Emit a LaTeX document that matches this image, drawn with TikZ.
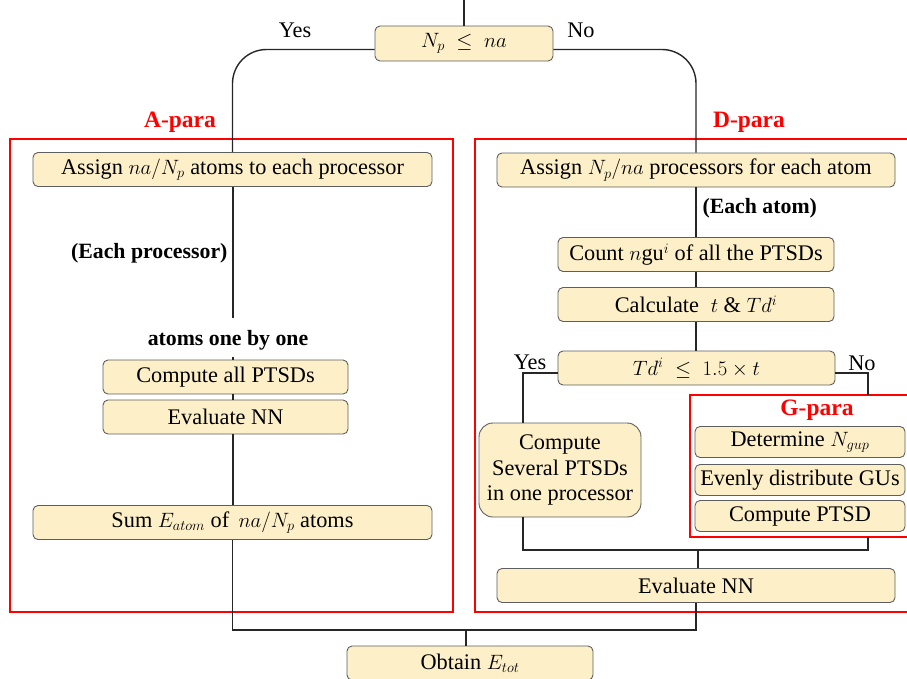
\documentclass[tikz,border=0pt]{standalone}
\usepackage{amsmath}
\usepackage{fontspec}
\setmainfont{Liberation Serif}
\usepackage{tikz}
\usetikzlibrary{calc}
\definecolor{boxfill}{HTML}{FDF0C8}
\definecolor{boxline}{HTML}{5E5E5E}
\newcommand\boxfont{\fontsize{22.3}{25.5}\selectfont}
\newcommand\notefont{\bfseries\fontsize{21.8}{24}\selectfont}
\newcommand\regionfont{\bfseries\fontsize{23.5}{26}\selectfont}
\tikzset{basic/.style={draw=boxline,fill=boxfill,line width=0.9pt,rounded corners=5pt,
                       inner sep=0pt,text badly centered,font=\boxfont}}
\tikzset{process/.style={basic,minimum height=34pt}}
\tikzset{choice/.style={basic,minimum height=35pt}}
\tikzset{region/.style={draw=red,line width=2.2pt}}
\tikzset{regionname/.style={text=red,font=\regionfont}}
\tikzset{note/.style={font=\notefont}}
\tikzset{flow/.style={line width=1.4pt,black!85}}

\begin{document}
\begin{tikzpicture}[x=1pt,y=-1pt]
    \useasboundingbox (0,0) rectangle (907,678);
    \clip (0,0) rectangle (907,678);

    % parallel regions
    \draw[region] (10,139) rectangle (453,612);
    \draw[region] (475,139) rectangle (940,612);
    \draw[region] (690,395) rectangle (940,537);
    \node[regionname] (Aname) at (180,122) {A-para};
    \node[regionname] (Dname) at (749,122) {D-para};
    \node[regionname] (Gname) at (817,410) {G-para};

    % first decision
    \coordinate (start) at (464,0);
    \node[choice,minimum width=178pt] (dec) at (464,43.5) {$N_p \;\leq\; na$};
    \node (yes) at (295,30) {\boxfont Yes};
    \node (no) at (581,30) {\boxfont No};

    % A-para column
    \node[process,minimum width=399pt] (assignA) at (232.5,169.5)
        {Assign $na/N_p$ atoms to each processor};
    \coordinate (loopA) at (233,318);
    \node[note,anchor=east] (eachA) at (231,253) {(Each processor)};
    \node[note] (oneA) at (228,340) {atoms one by one};
    \node[process,minimum width=245pt] (computeA) at (225.5,377) {Compute all PTSDs};
    \node[process,minimum width=245pt] (evalA) at (225.5,417) {Evaluate NN};
    \node[process,minimum width=399pt] (sumA) at (232.5,522.5)
        {Sum $E_{atom}$ of \,$na/N_p$ atoms};

    % D-para column
    \node[process,minimum width=398pt] (assignD) at (696,170)
        {Assign $N_p/na$ processors for each atom};
    \node[note,anchor=west] (eachD) at (699,208) {(Each atom)};
    \node[process,minimum width=276pt] (countD) at (696,254.5)
        {Count $n$gu$^i$ of all the PTSDs};
    \node[process,minimum width=276pt] (calcD) at (696,304.5)
        {Calculate \;$t$ \& $Td^i$};
    \node[process,minimum width=277pt] (decD) at (696.5,368)
        {$Td^i \;\leq\; 1.5\times t$};
    \node (yesD) at (530,362) {\boxfont Yes};
    \node (noD) at (862,363) {\boxfont No};
    \node[basic,rounded corners=14pt,minimum width=162pt,minimum height=94pt,align=center]
        (severalD) at (560,470) {Compute\\Several PTSDs\\in one processor};
    \coordinate (legL) at (523,550);
    \coordinate (gtop) at (868,395);
    \coordinate (gbot) at (868,537);
    % G-para steps
    \foreach \g/\gy [count=\gi] in {Determine $N_{gup}$/442,
                                   Evenly distribute GUs/480,
                                   Compute PTSD/516}{
        \node[basic,minimum width=210pt,minimum height=31pt] (g\gi) at (800,\gy) {\g};
    }
    \node[process,minimum width=398pt] (evalD) at (696,585.5) {Evaluate NN};

    % final step
    \node[process,minimum width=246pt] (obtain) at (470,663) {Obtain $E_{tot}$};
    \coordinate (join) at (466,630);
    \coordinate (joinD) at (698,550);

    % connectors
    \draw[flow] (start) -- (dec);
    \draw[flow,rounded corners=34pt] ($(dec.west)+(0,6)$) -| (assignA.north);
    \draw[flow,rounded corners=34pt] ($(dec.east)+(0,6)$) -| (assignD.north);
    \draw[flow] (assignA.south -| loopA) -- (loopA);
    \draw[flow] (loopA |- computeA.north) -- ++(0,-3);
    \draw[flow] (loopA |- computeA.south) -- (loopA |- evalA.north);
    \draw[flow] (loopA |- evalA.south) -- (loopA |- sumA.north);
    \draw[flow] (sumA.south) |- (join) -| (evalD.south);
    \draw[flow] (join) -- (join |- obtain.north);
    \draw[flow] (assignD) -- (countD);
    \draw[flow] (countD) -- (calcD);
    \draw[flow] (calcD) -- (calcD |- decD.north);
    \draw[flow] ($(decD.west)+(0,5)$) -| (legL |- severalD.north);
    \draw[flow] ($(decD.east)+(0,5)$) -| (gtop);
    \draw[flow] (legL |- severalD.south) -- (legL) -| (gbot);
    \draw[flow] (joinD) -- (joinD |- evalD.north);
\end{tikzpicture}
\end{document}
